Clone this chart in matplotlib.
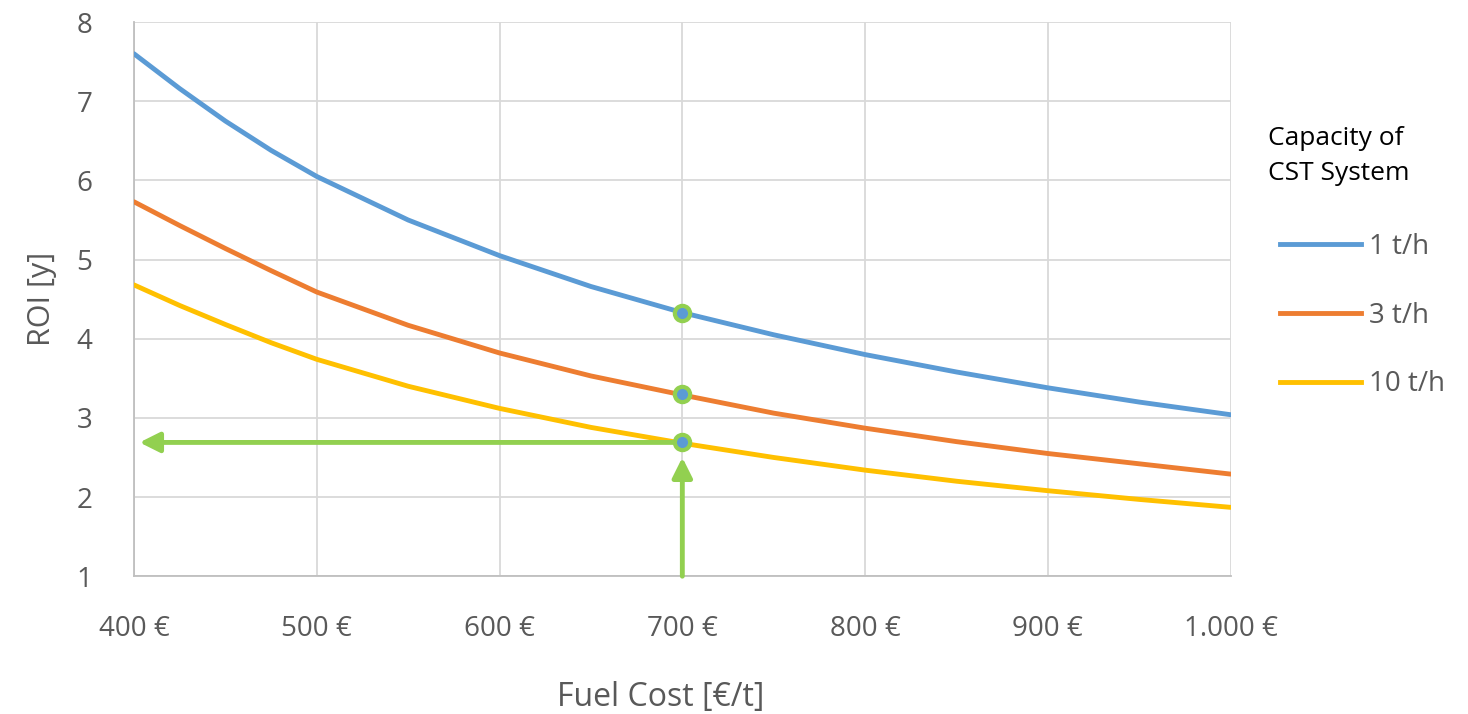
import numpy as np
import matplotlib.pyplot as plt
from matplotlib.lines import Line2D

# Daten
fuel_cost = [400, 425, 450, 475, 500, 550, 600, 650, 700, 750, 800, 850, 900, 950, 1000]
roi_1th = [7.60, 7.16, 6.75, 6.38, 6.05, 5.50, 5.05, 4.66, 4.33, 4.05, 3.80, 3.58, 3.38, 3.20, 3.04]
roi_3th = [5.73, 5.43, 5.14, 4.86, 4.59, 4.17, 3.82, 3.53, 3.29, 3.06, 2.87, 2.70, 2.55, 2.42, 2.29]
roi_10th = [4.68, 4.42, 4.18, 3.95, 3.74, 3.40, 3.12, 2.88, 2.68, 2.50, 2.34, 2.20, 2.08, 1.97, 1.87]
labels = ["1 t/h", "3 t/h", "10 t/h"]
colors = ["#5B9BD5", "#ED7D31", "#FFC000"]
x_ticks = [400, 500, 600, 700, 800, 900, 1000]
x_ticklabels = ["400 €", "500 €", "600 €", "700 €", "800 €", "900 €", "1.000 €"]

# Markierter Punkt
sel_cost = 700
sel_roi = [4.33, 3.30, 2.69]

plt.rcParams['font.family'] = ['Open Sans', 'DejaVu Sans']
grey = "#595959"
green = "#92D050"

fig = plt.figure(figsize=(14.68, 7.14), dpi=100)
ax = fig.add_axes([0.0913, 0.193, 0.747, 0.776])

for ys, lab, col in zip([roi_1th, roi_3th, roi_10th], labels, colors):
    ax.plot(fuel_cost, ys, color=col, lw=3.5, label=lab, solid_capstyle='round', zorder=3)

# Pfeile
ax.annotate("", xy=(403, sel_roi[2]), xytext=(sel_cost, sel_roi[2]),
            arrowprops=dict(arrowstyle="-|>,head_length=1.2,head_width=0.6", color=green, lw=3.5,
                            shrinkA=0, shrinkB=0), zorder=4)
ax.annotate("", xy=(sel_cost, 2.5), xytext=(sel_cost, 1.0),
            arrowprops=dict(arrowstyle="-|>,head_length=1.2,head_width=0.6", color=green, lw=3.5,
                            shrinkA=0, shrinkB=0), zorder=4)
ax.plot([sel_cost] * 3, sel_roi, 'o', ms=11, mfc="#5B9BD5", mec=green, mew=3, zorder=5)

ax.set_xlim(400, 1000)
ax.set_ylim(1, 8)
ax.set_xticks(x_ticks)
ax.set_xticklabels(x_ticklabels)
ax.set_yticks(range(1, 9))
ax.grid(True, color="#d9d9d9", lw=1.3, zorder=0)
ax.set_axisbelow(True)
for s in ["top", "right"]:
    ax.spines[s].set_visible(False)
for s in ["left", "bottom"]:
    ax.spines[s].set_color("#bfbfbf")
    ax.spines[s].set_linewidth(1.3)
ax.tick_params(length=0, labelsize=20, colors=grey)
ax.tick_params(axis='y', pad=30)
ax.tick_params(axis='x', pad=28)
ax.set_xlabel("Fuel Cost [€/t]", fontsize=23, color=grey)
ax.set_ylabel("ROI [y]", fontsize=22, color=grey, labelpad=14)
ax.xaxis.set_label_coords(0.48, -0.19)

# Legendentitel separat
fig.text(1268 / 1468, 1 - 156 / 714, "Capacity of\nCST System", fontsize=19, color="black",
         ha="left", va="center", linespacing=1.5)

handles = [Line2D([0], [0], color=c, lw=3.5) for c in colors]
leg = fig.legend(handles, labels, loc="upper left",
                 bbox_to_anchor=(0.855, 0.709), frameon=False, fontsize=20,
                 handlelength=2.9, handletextpad=0.3, labelspacing=1.47)
for t in leg.get_texts():
    t.set_color(grey)

fig.savefig("out.png", dpi=100)
